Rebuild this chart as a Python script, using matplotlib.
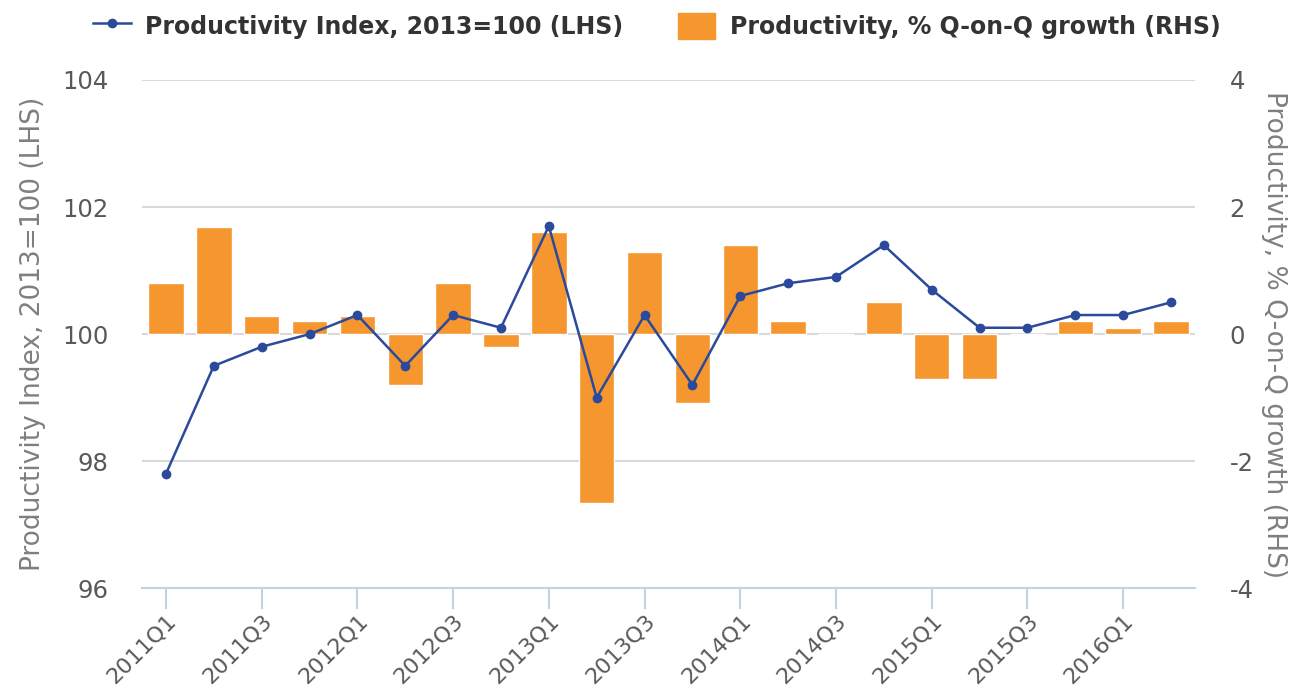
import matplotlib
matplotlib.use("Agg")
import matplotlib.pyplot as plt
import numpy as np

quarters = ["2011Q1", "2011Q2", "2011Q3", "2011Q4",
            "2012Q1", "2012Q2", "2012Q3", "2012Q4",
            "2013Q1", "2013Q2", "2013Q3", "2013Q4",
            "2014Q1", "2014Q2", "2014Q3", "2014Q4",
            "2015Q1", "2015Q2", "2015Q3", "2015Q4",
            "2016Q1", "2016Q2"]
index_lhs = [97.8, 99.5, 99.8, 100.0, 100.3, 99.5, 100.3, 100.1,
             101.7, 99.0, 100.3, 99.2, 100.6, 100.8, 100.9, 101.4,
             100.7, 100.1, 100.1, 100.3, 100.3, 100.5]
growth_rhs = [0.8, 1.68, 0.28, 0.2, 0.28, -0.8, 0.8, -0.2,
              1.6, -2.66, 1.3, -1.08, 1.4, 0.2, 0.0, 0.5,
              -0.7, -0.7, 0.0, 0.2, 0.1, 0.2]

LINE = "#2b4a9b"
BAR = "#f5962f"
GRID = "#d9d9d9"
AXC = "#c3d1e3"
TXT = "#595959"

plt.rcParams["axes.unicode_minus"] = False

fig = plt.figure(figsize=(12.98, 6.92), dpi=100)
ax = fig.add_axes([0.1094, 0.150, 0.8112, 0.7344])
ax2 = ax.twinx()
ax3 = ax.twinx()
ax.set_zorder(1)
ax2.set_zorder(2)
ax3.set_zorder(3)
ax2.patch.set_visible(False)
ax3.patch.set_visible(False)

x = np.arange(len(quarters))

ax.set_ylim(96, 104)
ax.set_yticks([96, 98, 100, 102, 104])
ax.grid(axis="y", color=GRID, lw=1.5)
ax.set_axisbelow(True)

# bars on the RHS axis
ax2.bar(x, growth_rhs, width=0.74, color=BAR, edgecolor="white", lw=1.0)
ax2.set_ylim(-4, 4)
ax2.set_yticks([-4, -2, 0, 2, 4])

# index line on an overlay sharing LHS scale
ax3.set_ylim(96, 104)
ax3.axis("off")
ax3.plot(x, index_lhs, color=LINE, lw=1.8, marker="o", ms=6)

for a in (ax, ax2, ax3):
    a.set_xlim(-0.5, len(quarters) - 0.5)

ax.set_xticks(x[::2])
ax.set_xticklabels(quarters[::2], rotation=45, ha="right", rotation_mode="anchor",
                   fontsize=16, color=TXT)
ax.tick_params(axis="x", length=15, width=1.5, color=AXC, pad=1)
ax.tick_params(axis="y", length=0, labelsize=17.5, labelcolor=TXT, pad=24)
ax2.tick_params(axis="y", length=0, labelsize=17.5, labelcolor=TXT, pad=25)

for a in (ax, ax2, ax3):
    for s in ("top", "left", "right", "bottom"):
        a.spines[s].set_visible(False)
ax.spines["bottom"].set_visible(True)
ax.spines["bottom"].set_color(AXC)
ax.spines["bottom"].set_linewidth(1.5)

ax.set_ylabel("Productivity Index, 2013=100 (LHS)", fontsize=19, color="#7f7f7f", labelpad=12)
ax2.set_ylabel("Productivity, % Q-on-Q growth (RHS)", fontsize=19, color="#7f7f7f",
               rotation=270, labelpad=24)

h1 = plt.Line2D([], [], color=LINE, lw=1.8, marker="o", ms=6)
h2 = plt.Rectangle((0, 0), 1, 1, color=BAR)
leg = fig.legend([h1, h2],
                 ["Productivity Index, 2013=100 (LHS)", "Productivity, % Q-on-Q growth (RHS)"],
                 loc="upper center", bbox_to_anchor=(0.506, 1.012), ncol=2, frameon=False,
                 prop={"weight": "bold", "size": 17}, handlelength=1.6, handleheight=1.3,
                 columnspacing=2.3, handletextpad=0.6)
for t in leg.get_texts():
    t.set_color("#333333")

fig.savefig("out.png", dpi=100)
